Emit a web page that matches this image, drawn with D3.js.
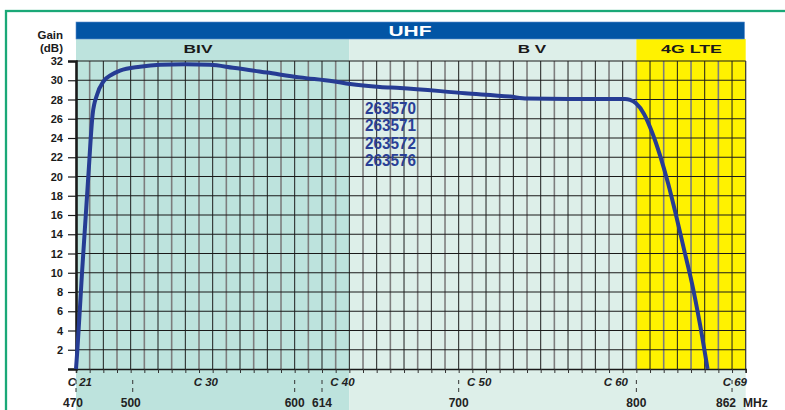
<!DOCTYPE html>
<html>
<head>
<meta charset="utf-8">
<script src="https://cdn.jsdelivr.net/npm/d3@7"></script>
<style>
  body { margin: 0; background: #fff; }
  svg { display: block; font-family: "Liberation Sans", Arial, sans-serif; }
</style>
</head>
<body>
<div id="chart"></div>
<script>
// x axis works in channel columns: channel n fills [n, n+1]
const channelTicks = [21, 30, 40, 50, 60, 69];
const mhzLabels = ["470", "500", "600", "614", "700", "800", "862"];
const mhzAt = [21, 25.15, 37, 39, 49, 62, 69]; // where the drawing puts each MHz mark
const gainTicks = [0, 2, 4, 6, 8, 10, 12, 14, 16, 18, 20, 22, 24, 26, 28, 30, 32];

const bandNames = ["BIV", "B V", "4G LTE"];
const bandStart = [21, 41, 62];
const bandEnd = [41, 62, 70];

const models = ["263570", "263571", "263572", "263576"];

// gain curve
const curveChannel = [21.00, 21.10, 21.44, 21.90, 22.22, 22.54, 23.00, 23.63, 24.22, 25.68, 27.15, 28.98,
  30.80, 32.49, 34.98, 37.39, 39.80, 41.05, 43.24, 44.71, 49.46, 52.76, 54.00, 57.88, 61.17, 61.54,
  61.97, 62.56, 63.15, 63.73, 64.32, 64.90, 65.49, 66.07, 66.66, 67.21];
const curveGain = [0, 2, 10, 20, 26.5, 28.5, 29.85, 30.6, 31.0, 31.4, 31.6, 31.65,
  31.6, 31.3, 30.8, 30.3, 29.9, 29.6, 29.3, 29.2, 28.65, 28.3, 28.1, 28.05, 28.05, 27.95,
  27.6, 26.5, 24.6, 22.2, 19.3, 16.0, 12.4, 8.9, 4.6, 0];

const W = 785, H = 410;
const plot = { left: 76, right: 745.7, top: 61, bottom: 369 };
const bandColors = ["#bde3dd", "#ddefe9", "#fff200"];

const svg = d3.select("#chart").append("svg")
  .attr("width", W)
  .attr("height", H);

const x = d3.scaleLinear().domain([21, 70]).range([plot.left, plot.right]);
const y = d3.scaleLinear().domain([0, 32]).range([plot.bottom, plot.top]);

// green frame
svg.append("rect")
  .attr("x", 6).attr("y", 11)
  .attr("width", 820).attr("height", 450)
  .attr("fill", "#fff")
  .attr("stroke", "#1aa877")
  .attr("stroke-width", 2.3);

// band backgrounds (plot + header row), below the axis only the light colours
bandNames.forEach((name, i) => {
  const x0 = x(bandStart[i]), x1 = x(bandEnd[i]);
  svg.append("rect")
    .attr("x", x0).attr("y", 39)
    .attr("width", x1 - x0).attr("height", plot.bottom - 39)
    .attr("fill", bandColors[i]);
  svg.append("rect")
    .attr("x", x0).attr("y", plot.bottom)
    .attr("width", x1 - x0).attr("height", H - plot.bottom)
    .attr("fill", i === 0 ? bandColors[0] : bandColors[1]);
});

// UHF bar
svg.append("rect")
  .attr("x", plot.left).attr("y", 22)
  .attr("width", 668.5).attr("height", 17)
  .attr("fill", "#0255a5")
  .attr("stroke", "#5b8ccc")
  .attr("stroke-width", 0.6);
svg.append("text")
  .attr("x", 410).attr("y", 36)
  .attr("text-anchor", "middle")
  .attr("fill", "#fff")
  .style("font-size", "14px")
  .style("font-weight", "900")
  .attr("textLength", 43)
  .attr("lengthAdjust", "spacingAndGlyphs")
  .text("UHF");

// band labels
const bandLabelX = [198, 532, 691.5];
const bandLabelLen = [29, 28.5, 61];
bandNames.forEach((name, i) => {
  svg.append("text")
    .attr("x", bandLabelX[i]).attr("y", 53.3)
    .attr("text-anchor", "middle")
    .attr("fill", "#1a1a1a")
    .style("font-size", "11.5px")
    .style("font-weight", "900")
    .attr("textLength", bandLabelLen[i])
    .attr("lengthAdjust", "spacingAndGlyphs")
    .text(name);
});

// vertical grid, one line per channel, alternating grey / black
const g = svg.append("g");
d3.range(22, 70).forEach(c => {
  const odd = (c - 21) % 2 === 1;
  g.append("line")
    .attr("x1", x(c)).attr("x2", x(c))
    .attr("y1", plot.top).attr("y2", plot.bottom)
    .attr("stroke", odd ? "#7d7d7d" : "#1e1e1e")
    .attr("stroke-width", odd ? 1.6 : 1);
});

// horizontal grid
gainTicks.filter(v => v > 0).forEach(v => {
  g.append("line")
    .attr("x1", plot.left).attr("x2", plot.right)
    .attr("y1", y(v)).attr("y2", y(v))
    .attr("stroke", "#1a1a1a")
    .attr("stroke-width", 1.1);
});

// right border
g.append("line")
  .attr("x1", plot.right).attr("x2", plot.right)
  .attr("y1", plot.top).attr("y2", plot.bottom)
  .attr("stroke", "#333").attr("stroke-width", 1.2);

// bottom axis: a short tick under every channel line
const xAxis = svg.append("g")
  .attr("transform", `translate(0,${plot.bottom})`)
  .call(d3.axisBottom(x).tickValues(d3.range(21, 71)).tickSize(4).tickFormat(""));
xAxis.select(".domain").attr("stroke", "#1a1a1a").attr("stroke-width", 1.5);
xAxis.selectAll(".tick line").attr("stroke", "#333").attr("stroke-width", 1);

// left axis
const yAxis = svg.append("g")
  .attr("transform", `translate(${plot.left},0)`)
  .call(d3.axisLeft(y).tickValues(gainTicks).tickSize(8).tickPadding(5)
    .tickFormat(d => d === 0 ? "" : d));
yAxis.select(".domain").attr("stroke", "#1a1a1a").attr("stroke-width", 2.6);
yAxis.selectAll(".tick line").attr("stroke", "#1a1a1a").attr("stroke-width", 1.2);
yAxis.selectAll("text")
  .attr("fill", "#1a1a1a")
  .style("font-size", "11px")
  .style("font-weight", "bold")
  .style("font-family", "'Liberation Sans', Arial, sans-serif");

// axis title
svg.append("text")
  .attr("x", 63).attr("y", 39)
  .attr("text-anchor", "end")
  .attr("fill", "#1a1a1a")
  .style("font-size", "11.5px").style("font-weight", "bold")
  .text("Gain");
svg.append("text")
  .attr("x", 63).attr("y", 51.5)
  .attr("text-anchor", "end")
  .attr("fill", "#1a1a1a")
  .style("font-size", "11.5px").style("font-weight", "bold")
  .text("(dB)");

// channel labels centred on their column
channelTicks.forEach(c => {
  svg.append("text")
    .attr("x", x(c + 0.5) - (c === 21 ? 3 : 0) - (c === 69 ? 4 : 0))
    .attr("y", 386)
    .attr("text-anchor", "middle")
    .attr("fill", "#222")
    .style("font-size", "11.5px")
    .style("font-weight", "bold")
    .style("font-style", "italic")
    .text("C " + c);
});

// MHz marks: dashed ticks and labels
mhzLabels.forEach((lab, i) => {
  const px = x(mhzAt[i]);
  svg.append("line")
    .attr("x1", px).attr("x2", px)
    .attr("y1", 380).attr("y2", 396)
    .attr("stroke", "#333")
    .attr("stroke-width", 1)
    .attr("stroke-dasharray", "4,4");
  svg.append("text")
    .attr("x", px - (lab === "862" ? 6 : 0) - (lab === "470" ? 3 : 0) - (lab === "500" ? 2 : 0))
    .attr("y", 406.5)
    .attr("text-anchor", "middle")
    .attr("fill", "#222")
    .style("font-size", "12px")
    .style("font-weight", "bold")
    .text(lab);
});
svg.append("text")
  .attr("x", 743).attr("y", 406.5)
  .attr("fill", "#222")
  .style("font-size", "12px")
  .style("font-weight", "bold")
  .text("MHz");

// gain curve
const line = d3.line()
  .x(d => x(d[0]))
  .y(d => y(d[1]))
  .curve(d3.curveMonotoneX);
svg.append("path")
  .datum(curveChannel.map((c, i) => [c, curveGain[i]]))
  .attr("d", line)
  .attr("fill", "none")
  .attr("stroke", "#263c94")
  .attr("stroke-width", 4);

// model numbers
models.forEach((m, i) => {
  svg.append("text")
    .attr("x", 365).attr("y", 113.5 + i * 17.6)
    .attr("fill", "#2a3f96")
    .style("font-size", "17px")
    .style("font-weight", "bold")
    .attr("textLength", 51)
    .attr("lengthAdjust", "spacingAndGlyphs")
    .text(m);
});
</script>
</body>
</html>
